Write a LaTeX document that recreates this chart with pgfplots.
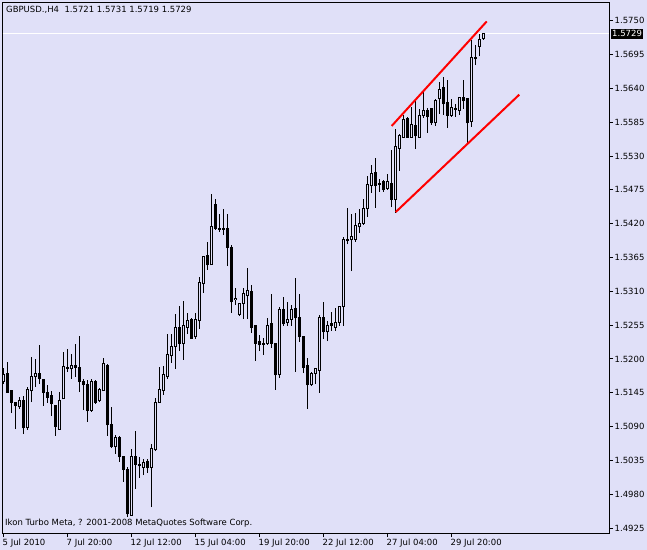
\documentclass[border=0pt]{standalone}
\usepackage{pgfplots}
\pgfplotsset{compat=1.18}
\usepackage{pgfplotstable}
\usepackage{fontspec}
\setmainfont{DejaVu Sans}
\definecolor{bg}{RGB}{224,224,248}
\newcommand\mt{\fontsize{8.5bp}{10bp}\selectfont}

% GBPUSD H4 candles: index, open, high, low, close
\pgfplotstableread{
i O H L C
0 1.5163 1.5186 1.5159 1.5174
1 1.5176 1.5195 1.5145 1.5146
2 1.5148 1.5150 1.5112 1.5129
3 1.5129 1.5129 1.5086 1.5124
4 1.5122 1.5138 1.5119 1.5132
5 1.5132 1.5140 1.5078 1.5088
6 1.5088 1.5155 1.5085 1.5150
7 1.5148 1.5203 1.5130 1.5172
8 1.5171 1.5200 1.5155 1.5177
9 1.5177 1.5223 1.5159 1.5168
10 1.5166 1.5168 1.5124 1.5146
11 1.5146 1.5158 1.5129 1.5138
12 1.5140 1.5148 1.5107 1.5127
13 1.5125 1.5125 1.5075 1.5090
14 1.5086 1.5146 1.5085 1.5133
15 1.5135 1.5212 1.5135 1.5187
16 1.5186 1.5216 1.5179 1.5185
17 1.5184 1.5208 1.5168 1.5190
18 1.5190 1.5225 1.5171 1.5186
19 1.5186 1.5238 1.5146 1.5163
20 1.5163 1.5168 1.5117 1.5158
21 1.5158 1.5166 1.5098 1.5116
22 1.5117 1.5168 1.5114 1.5164
23 1.5163 1.5166 1.5127 1.5130
24 1.5132 1.5153 1.5130 1.5150
25 1.5148 1.5202 1.5148 1.5192
26 1.5190 1.5192 1.5075 1.5093
27 1.5094 1.5122 1.5055 1.5057
28 1.5057 1.5077 1.5046 1.5073
29 1.5073 1.5075 1.5033 1.5041
30 1.5041 1.5041 1.5000 1.5020
31 1.5020 1.5024 1.4943 1.4948
32 1.4946 1.5054 1.4946 1.5042
33 1.5042 1.5083 1.4989 1.5029
34 1.5028 1.5041 1.5007 1.5026
35 1.5024 1.5037 1.5011 1.5031
36 1.5034 1.5037 1.5015 1.5023
37 1.5024 1.5062 1.4959 1.5054
38 1.5052 1.5137 1.5050 1.5129
39 1.5129 1.5187 1.5129 1.5150
40 1.5148 1.5189 1.5142 1.5174
41 1.5171 1.5241 1.5168 1.5208
42 1.5205 1.5241 1.5194 1.5220
43 1.5220 1.5273 1.5184 1.5252
44 1.5251 1.5286 1.5213 1.5225
45 1.5225 1.5295 1.5199 1.5254
46 1.5252 1.5275 1.5241 1.5262
47 1.5264 1.5267 1.5233 1.5234
48 1.5236 1.5275 1.5233 1.5264
49 1.5262 1.5334 1.5249 1.5324
50 1.5322 1.5368 1.5308 1.5366
51 1.5368 1.5391 1.5345 1.5353
52 1.5353 1.5469 1.5353 1.5415
53 1.5451 1.5460 1.5410 1.5413
54 1.5412 1.5436 1.5407 1.5411
55 1.5411 1.5444 1.5402 1.5413
56 1.5412 1.5436 1.5351 1.5381
57 1.5382 1.5386 1.5275 1.5293
58 1.5296 1.5316 1.5288 1.5299
59 1.5272 1.5291 1.5270 1.5290
60 1.5290 1.5316 1.5265 1.5306
61 1.5303 1.5348 1.5265 1.5311
62 1.5309 1.5321 1.5242 1.5251
63 1.5254 1.5254 1.5197 1.5226
64 1.5229 1.5239 1.5213 1.5223
65 1.5225 1.5234 1.5207 1.5224
66 1.5225 1.5267 1.5223 1.5255
67 1.5257 1.5306 1.5218 1.5226
68 1.5226 1.5226 1.5150 1.5174
69 1.5174 1.5285 1.5169 1.5280
70 1.5280 1.5301 1.5254 1.5257
71 1.5259 1.5293 1.5254 1.5264
72 1.5265 1.5288 1.5254 1.5280
73 1.5282 1.5332 1.5179 1.5267
74 1.5267 1.5306 1.5228 1.5236
75 1.5236 1.5238 1.5177 1.5186
76 1.5189 1.5202 1.5119 1.5158
77 1.5158 1.5179 1.5156 1.5176
78 1.5177 1.5186 1.5159 1.5184
79 1.5181 1.5272 1.5145 1.5267
80 1.5267 1.5293 1.5233 1.5244
81 1.5244 1.5262 1.5229 1.5255
82 1.5255 1.5277 1.5246 1.5257
83 1.5252 1.5283 1.5246 1.5259
84 1.5259 1.5286 1.5254 1.5285
85 1.5285 1.5399 1.5254 1.5394
86 1.5392 1.5446 1.5387 1.5394
87 1.5394 1.5436 1.5343 1.5399
88 1.5395 1.5438 1.5391 1.5417
89 1.5415 1.5444 1.5405 1.5421
90 1.5421 1.5460 1.5418 1.5444
91 1.5444 1.5498 1.5431 1.5483
92 1.5482 1.5516 1.5470 1.5501
93 1.5503 1.5527 1.5446 1.5482
94 1.5485 1.5493 1.5472 1.5484
95 1.5488 1.5491 1.5472 1.5475
96 1.5477 1.5501 1.5475 1.5488
97 1.5486 1.5540 1.5447 1.5460
98 1.5460 1.5574 1.5438 1.5545
99 1.5543 1.5566 1.5506 1.5563
100 1.5561 1.5597 1.5560 1.5589
101 1.5591 1.5594 1.5560 1.5561
102 1.5561 1.5610 1.5560 1.5581
103 1.5579 1.5623 1.5542 1.5563
104 1.5561 1.5607 1.5560 1.5596
105 1.5596 1.5636 1.5592 1.5604
106 1.5604 1.5609 1.5568 1.5594
107 1.5607 1.5609 1.5581 1.5584
108 1.5584 1.5623 1.5579 1.5620
109 1.5623 1.5651 1.5599 1.5639
110 1.5641 1.5659 1.5597 1.5615
111 1.5617 1.5654 1.5576 1.5596
112 1.5596 1.5623 1.5594 1.5609
113 1.5607 1.5615 1.5594 1.5606
114 1.5604 1.5626 1.5597 1.5625
115 1.5626 1.5654 1.5607 1.5620
116 1.5623 1.5623 1.5548 1.5584
117 1.5586 1.5719 1.5578 1.5690
118 1.5690 1.5711 1.5678 1.5688
119 1.5708 1.5728 1.5692 1.5719
120 1.5721 1.5731 1.5719 1.5729
}\candles

\begin{document}
\begin{tikzpicture}
\fill[bg] (0,0) rectangle (647bp,550bp);
\begin{axis}[
  at={(2.5bp,17bp)}, anchor=south west,
  scale only axis, width=606.5bp, height=530bp,
  xmin=-0.25, xmax=151.375, ymin=1.4917, ymax=1.5779,
  axis background/.style={fill=bg},
  axis line style={black, line width=1bp},
  tick align=outside, major tick length=4bp,
  tick style={black, line width=1bp},
  xtick pos=lower, ytick pos=right, yticklabel pos=right,
  xtick={0,16,32,48,64,80,96,112},
  xticklabels={5 Jul 2010,7 Jul 20:00,12 Jul 12:00,15 Jul 04:00,19 Jul 20:00,22 Jul 12:00,27 Jul 04:00,29 Jul 20:00},
  xticklabel style={font=\mt, anchor=north west, xshift=-2.5bp, inner sep=1.5bp},
  ytick={1.4925,1.4980,1.5035,1.5090,1.5145,1.5200,1.5255,1.5310,1.5365,1.5420,1.5475,1.5530,1.5585,1.5640,1.5695,1.5750},
  yticklabels={1.4925,1.4980,1.5035,1.5090,1.5145,1.5200,1.5255,1.5310,1.5365,1.5420,1.5475,1.5530,1.5585,1.5640,1.5695,1.5750},
  yticklabel style={font=\mt, anchor=west, inner sep=1.5bp},
  extra y ticks={1.5729}, extra y tick labels={1.5729},
  extra y tick style={major tick length=0bp, yticklabel style={fill=black, text=white, inner xsep=1bp, inner ysep=2bp, xshift=2bp}},
]
% bid line
\addplot[white, line width=1bp, forget plot] coordinates {(-0.25,1.5729) (151.375,1.5729)};
% wicks
\addplot[draw=none, mark=none, forget plot,
  error bars/.cd, y dir=plus, y explicit, error mark=none,
  error bar style={draw=black, line width=1bp}]
  table[x=i, y=L, y error expr=\thisrow{H}-\thisrow{L}] {\candles};
% bodies (outline / filled)
\addplot[draw=none, mark=none, forget plot,
  error bars/.cd, y dir=plus, y explicit, error mark=none,
  error bar style={draw=black, line width=3bp}]
  table[x=i, y expr={min(\thisrow{O},\thisrow{C})-0.0000813},
        y error expr={abs(\thisrow{C}-\thisrow{O})+0.0001627}] {\candles};
% hollow interior of bullish candles
\addplot[draw=none, mark=none, forget plot,
  restrict expr to domain={\thisrow{C}-\thisrow{O}}{0.00025:1},
  error bars/.cd, y dir=plus, y explicit, error mark=none,
  error bar style={draw=bg, line width=1bp}]
  table[x=i, y expr={\thisrow{O}+0.0000813},
        y error expr={\thisrow{C}-\thisrow{O}-0.0001627}] {\candles};
% channel lines
\addplot[red, line width=2bp, forget plot] coordinates {(97.05,1.5579) (120.8,1.5749)};
\addplot[red, line width=2bp, forget plot] coordinates {(98.05,1.5439) (128.95,1.5630)};
\end{axis}
\node[anchor=west, font=\mt, inner sep=0pt] at (6bp,540bp) {GBPUSD.,H4\ \ 1.5721 1.5731 1.5719 1.5729};
\node[anchor=west, font=\mt, inner sep=0pt] at (5bp,27bp) {Ikon Turbo Meta, ? 2001-2008 MetaQuotes Software Corp.};
\pgfresetboundingbox
\path (0,0) rectangle (647bp,550bp);
\end{tikzpicture}
\end{document}
